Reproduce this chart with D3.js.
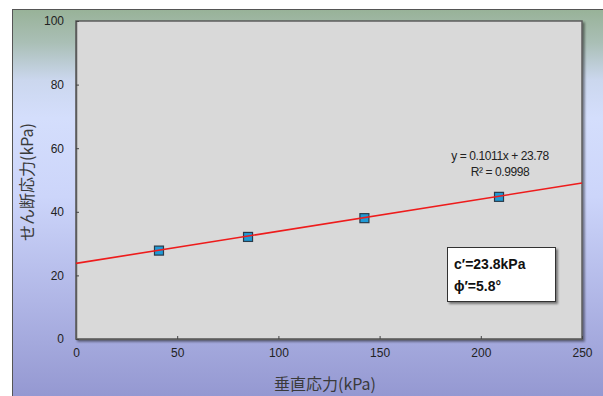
<!DOCTYPE html>
<html>
<head>
<meta charset="utf-8">
<script src="https://cdn.jsdelivr.net/npm/d3@7"></script>
<style>
  html, body { margin: 0; padding: 0; background: #ffffff; }
  svg { display: block; }
</style>
</head>
<body>
<svg id="chart" width="603" height="396"></svg>
<script>
// Direct shear test results: normal stress vs. shear stress
const normalStress = [41, 85, 142.5, 209];   // kPa
const shearStress  = [27.8, 32.1, 38.0, 44.7]; // kPa
const xTicks = [0, 50, 100, 150, 200, 250];
const yTicks = [0, 20, 40, 60, 80, 100];
const slope = 0.1011;
const intercept = 23.78;
const equationLines = ["y = 0.1011x + 23.78", "R² = 0.9998"];
const resultLines = ["c′=23.8kPa", "ϕ′=5.8°"];
const xTitle = "垂直応力(kPa)";
const yTitle = "せん断応力(kPa)";

const svg = d3.select("#chart");
const W = 603, H = 396;
const plot = { left: 76, top: 21, right: 582, bottom: 339 };

const x = d3.scaleLinear().domain([0, 250]).range([plot.left, plot.right]);
const y = d3.scaleLinear().domain([0, 100]).range([plot.bottom, plot.top]);

const defs = svg.append("defs");
const bg = defs.append("linearGradient")
  .attr("id", "bgGrad").attr("x1", 0).attr("y1", 0).attr("x2", 0).attr("y2", 1);
[[0, "#98b298"], [0.08, "#aabfb6"], [0.17, "#cbd7ee"], [0.26, "#d4defc"],
 [0.45, "#ccd5fa"], [0.7, "#b0b6e6"], [1, "#8c8fcb"]]
  .forEach(([o, c]) => bg.append("stop").attr("offset", o).attr("stop-color", c));

const shadow = defs.append("filter").attr("id", "shadow")
  .attr("x", -0.1).attr("y", -0.1).attr("width", 1.3).attr("height", 1.4);
shadow.append("feDropShadow").attr("dx", 2).attr("dy", 2).attr("stdDeviation", 1)
  .attr("flood-color", "#000").attr("flood-opacity", 0.45);

// Chart area background with frame
svg.append("rect")
  .attr("x", 12.5).attr("y", 9.5).attr("width", W + 20).attr("height", H + 20)
  .attr("fill", "url(#bgGrad)").attr("stroke", "#555").attr("stroke-width", 1);

// Plot area
svg.append("rect")
  .attr("x", plot.left).attr("y", plot.top)
  .attr("width", plot.right - plot.left).attr("height", plot.bottom - plot.top)
  .attr("fill", "#d9d9d9").attr("stroke", "#5c5c5c").attr("stroke-width", 1.5)
  .attr("filter", "url(#shadow)");

// Axes (ticks point into the plot)
const xAxis = d3.axisBottom(x).tickValues(xTicks).tickSizeInner(-3).tickSizeOuter(0).tickPadding(9);
const yAxis = d3.axisLeft(y).tickValues(yTicks).tickSizeInner(-3).tickSizeOuter(0).tickPadding(12);

const gx = svg.append("g").attr("transform", `translate(0,${plot.bottom})`).call(xAxis);
const gy = svg.append("g").attr("transform", `translate(${plot.left},0)`).call(yAxis);
[gx, gy].forEach(g => {
  g.select(".domain").attr("stroke", "#5c5c5c").attr("stroke-width", 1.5);
  g.selectAll(".tick line").attr("stroke", "#444");
  g.selectAll(".tick text")
    .attr("fill", "#222").attr("font-size", 12)
    .attr("font-family", "'Liberation Sans', Arial, sans-serif");
});
gx.selectAll(".tick text").attr("dy", "0.71em");

// Axis titles
svg.append("text")
  .attr("x", 325).attr("y", 390)
  .attr("text-anchor", "middle")
  .attr("font-family", "'Noto Sans CJK JP', sans-serif")
  .attr("font-size", 16).attr("fill", "#3a3a3a")
  .text(xTitle);

svg.append("text")
  .attr("transform", "translate(33,182) rotate(-90)")
  .attr("text-anchor", "middle")
  .attr("font-family", "'Noto Sans CJK JP', sans-serif")
  .attr("font-size", 16).attr("fill", "#3a3a3a")
  .text(yTitle);

// Data markers
const pts = normalStress.map((v, i) => ({ x: v, y: shearStress[i] }));
const ms = 9;
svg.append("g").selectAll("rect")
  .data(pts).join("rect")
  .attr("x", d => x(d.x) - ms / 2).attr("y", d => y(d.y) - ms / 2)
  .attr("width", ms).attr("height", ms)
  .attr("fill", "#1f9ad6").attr("stroke", "#2b3b4a").attr("stroke-width", 1.2);

// Linear trendline over the full x range
const line = d3.line().x(d => x(d)).y(d => y(slope * d + intercept));
svg.append("path")
  .datum([0, 250])
  .attr("d", line)
  .attr("fill", "none").attr("stroke", "#ee1c1c").attr("stroke-width", 1.6);

// Regression equation
svg.append("g").selectAll("text")
  .data(equationLines).join("text")
  .attr("x", 500).attr("y", (d, i) => 160 + i * 16)
  .attr("text-anchor", "middle")
  .attr("font-family", "'Liberation Sans', Arial, sans-serif")
  .attr("font-size", 12).attr("letter-spacing", -0.4).attr("fill", "#222")
  .text(d => d);

// Strength parameters box
const box = svg.append("g");
box.append("rect")
  .attr("x", 447.5).attr("y", 247.5).attr("width", 108).attr("height", 54)
  .attr("fill", "#fff").attr("stroke", "#333").attr("stroke-width", 1)
  .attr("filter", "url(#shadow)");
box.selectAll("text")
  .data(resultLines).join("text")
  .attr("x", 454).attr("y", (d, i) => 269 + i * 22)
  .attr("font-family", "'Liberation Sans', Arial, sans-serif")
  .attr("font-weight", "bold").attr("font-size", 14).attr("fill", "#111")
  .text(d => d);
</script>
</body>
</html>
